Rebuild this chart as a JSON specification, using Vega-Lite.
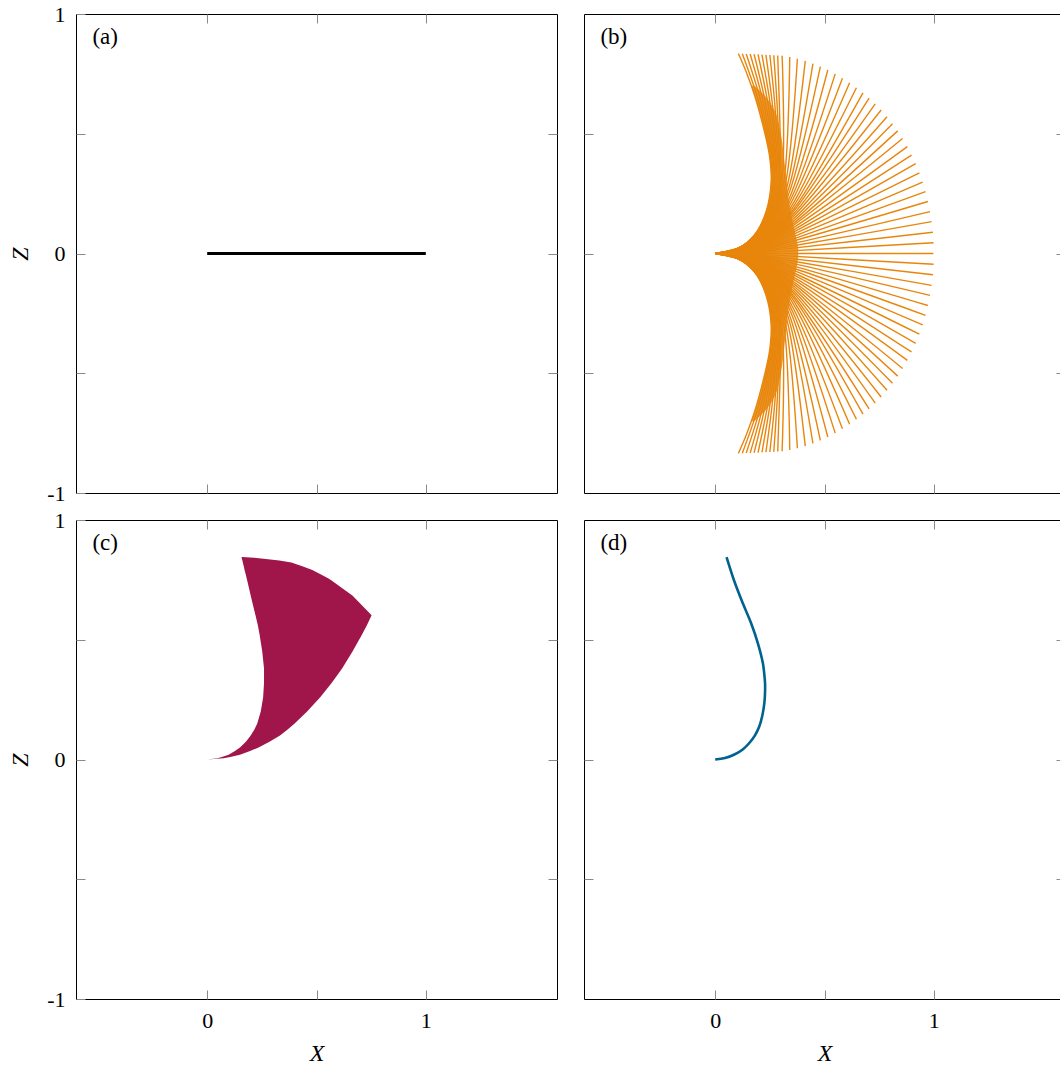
{
"$schema": "https://vega.github.io/schema/vega-lite/v6.json",
"background": "white",
"padding": {"left": 8, "top": 2, "right": 0, "bottom": 0},
"config": {
  "view": {"stroke": "#000", "strokeWidth": 1},
  "axis": {"domain": false, "grid": false, "tickColor": "#8a8a8a", "tickWidth": 1, "tickSize": -9, "labelFont": "Liberation Serif", "labelFontSize": 22, "labelColor": "#000", "labelPadding": 20, "titleFont": "Liberation Serif", "titleFontSize": 24, "titleFontStyle": "italic", "titleFontWeight": "normal", "titleColor": "#000"},
  "axisX": {"titlePadding": 10},
  "axisY": {"titlePadding": 14}
},
"columns": 2,
"spacing": 27,
"bounds": "flush",
"concat": [
{
 "width": 481, "height": 479,
 "layer": [
  {"data": {"values": [{"x": 0, "z": 0}, {"x": 1, "z": 0}]},
   "mark": {"type": "line", "color": "#000", "strokeWidth": 3},
   "encoding": {
    "x": {"field": "x", "type": "quantitative", "scale": {"domain": [-0.6, 1.6], "nice": false, "zero": false}, "axis": {"orient": "bottom", "values": [0, 0.5, 1], "labels": false, "title": null}},
    "y": {"field": "z", "type": "quantitative", "scale": {"domain": [-1, 1], "nice": false, "zero": false}, "axis": {"orient": "left", "values": [-1, -0.5, 0, 0.5, 1], "labelExpr": "datum.value == -1 ? '-1' : datum.value == 0 ? '0' : datum.value == 1 ? '1' : ''", "title": "Z"}}}},
  {"data": {"values": [{"x": 0, "z": 0}]},
   "mark": {"type": "point", "opacity": 0},
   "encoding": {
    "x": {"field": "x", "type": "quantitative", "scale": {"domain": [-0.6, 1.6], "nice": false, "zero": false}, "axis": {"orient": "top", "values": [0, 0.5, 1], "labels": false, "title": null}},
    "y": {"field": "z", "type": "quantitative", "scale": {"domain": [-1, 1], "nice": false, "zero": false}, "axis": {"orient": "right", "values": [-0.5, 0, 0.5], "labels": false, "title": null}}}},
  {"data": {"values": [{"t": "(a)"}]},
   "mark": {"type": "text", "align": "left", "baseline": "middle", "font": "Liberation Serif", "fontSize": 23, "color": "#000"},
   "encoding": {"text": {"field": "t"}, "x": {"datum": -0.525, "type": "quantitative", "axis": null}, "y": {"datum": 0.905, "type": "quantitative", "axis": null}}}
 ],
 "resolve": {"axis": {"x": "independent", "y": "independent"}}
},
{
 "width": 481, "height": 479,
 "layer": [
  {"data": {"values": [
{"z":-0.7,"xl":0.165,"xr":0.18},{"z":-0.65,"xl":0.184,"xr":0.235},{"z":-0.6,"xl":0.2,"xr":0.27},{"z":-0.5,"xl":0.228,"xr":0.3},{"z":-0.4,"xl":0.25,"xr":0.315},{"z":-0.3,"xl":0.257,"xr":0.327},{"z":-0.2,"xl":0.24,"xr":0.34},{"z":-0.15,"xl":0.222,"xr":0.35},{"z":-0.1,"xl":0.195,"xr":0.362},{"z":-0.06,"xl":0.158,"xr":0.372},{"z":-0.03,"xl":0.118,"xr":0.378},{"z":-0.01,"xl":0.07,"xr":0.38},{"z":0,"xl":0,"xr":0.38},
{"z":0.01,"xl":0.07,"xr":0.38},{"z":0.03,"xl":0.118,"xr":0.378},{"z":0.06,"xl":0.158,"xr":0.372},{"z":0.1,"xl":0.195,"xr":0.362},{"z":0.15,"xl":0.222,"xr":0.35},{"z":0.2,"xl":0.24,"xr":0.34},{"z":0.3,"xl":0.257,"xr":0.327},{"z":0.4,"xl":0.25,"xr":0.315},{"z":0.5,"xl":0.228,"xr":0.3},{"z":0.6,"xl":0.2,"xr":0.27},{"z":0.65,"xl":0.184,"xr":0.235},{"z":0.7,"xl":0.165,"xr":0.18}
  ]},
   "mark": {"type": "area", "orient": "horizontal", "color": "#e8860c", "opacity": 0.85, "interpolate": "monotone"},
   "encoding": {
    "y": {"field": "z", "type": "quantitative", "scale": {"domain": [-1, 1], "nice": false, "zero": false}, "axis": null},
    "x": {"field": "xl", "type": "quantitative", "scale": {"domain": [-0.6, 1.6], "nice": false, "zero": false}, "axis": null},
    "x2": {"field": "xr"}}},
  {"data": {"values": [
{"r":"u0","x":0,"z":0},{"r":"u0","x":0.104,"z":0.022},{"r":"u0","x":0.18,"z":0.078},{"r":"u0","x":0.233,"z":0.175},{"r":"u0","x":0.256,"z":0.3},{"r":"u0","x":0.248,"z":0.411},{"r":"u0","x":0.218,"z":0.536},{"r":"u0","x":0.18,"z":0.661},{"r":"u0","x":0.142,"z":0.758},{"r":"u0","x":0.106,"z":0.835},
{"r":"u1","x":0,"z":0},{"r":"u1","x":0.104,"z":0.021},{"r":"u1","x":0.181,"z":0.077},{"r":"u1","x":0.235,"z":0.172},{"r":"u1","x":0.26,"z":0.297},{"r":"u1","x":0.253,"z":0.408},{"r":"u1","x":0.226,"z":0.533},{"r":"u1","x":0.191,"z":0.659},{"r":"u1","x":0.124,"z":0.834},
{"r":"u2","x":0,"z":0},{"r":"u2","x":0.104,"z":0.021},{"r":"u2","x":0.181,"z":0.075},{"r":"u2","x":0.238,"z":0.17},{"r":"u2","x":0.265,"z":0.294},{"r":"u2","x":0.258,"z":0.405},{"r":"u2","x":0.234,"z":0.53},{"r":"u2","x":0.203,"z":0.656},{"r":"u2","x":0.142,"z":0.833},
{"r":"u3","x":0,"z":0},{"r":"u3","x":0.104,"z":0.021},{"r":"u3","x":0.182,"z":0.074},{"r":"u3","x":0.24,"z":0.167},{"r":"u3","x":0.269,"z":0.29},{"r":"u3","x":0.264,"z":0.401},{"r":"u3","x":0.242,"z":0.527},{"r":"u3","x":0.214,"z":0.654},{"r":"u3","x":0.16,"z":0.833},
{"r":"u4","x":0,"z":0},{"r":"u4","x":0.104,"z":0.021},{"r":"u4","x":0.182,"z":0.073},{"r":"u4","x":0.243,"z":0.164},{"r":"u4","x":0.273,"z":0.287},{"r":"u4","x":0.269,"z":0.398},{"r":"u4","x":0.25,"z":0.525},{"r":"u4","x":0.225,"z":0.652},{"r":"u4","x":0.178,"z":0.832},
{"r":"u5","x":0,"z":0},{"r":"u5","x":0.104,"z":0.02},{"r":"u5","x":0.183,"z":0.071},{"r":"u5","x":0.245,"z":0.162},{"r":"u5","x":0.277,"z":0.284},{"r":"u5","x":0.274,"z":0.395},{"r":"u5","x":0.258,"z":0.522},{"r":"u5","x":0.237,"z":0.649},{"r":"u5","x":0.196,"z":0.831},
{"r":"u6","x":0,"z":0},{"r":"u6","x":0.104,"z":0.02},{"r":"u6","x":0.183,"z":0.07},{"r":"u6","x":0.248,"z":0.159},{"r":"u6","x":0.281,"z":0.281},{"r":"u6","x":0.279,"z":0.392},{"r":"u6","x":0.266,"z":0.519},{"r":"u6","x":0.248,"z":0.647},{"r":"u6","x":0.214,"z":0.83},
{"r":"u7","x":0,"z":0},{"r":"u7","x":0.104,"z":0.02},{"r":"u7","x":0.184,"z":0.069},{"r":"u7","x":0.25,"z":0.156},{"r":"u7","x":0.286,"z":0.277},{"r":"u7","x":0.285,"z":0.388},{"r":"u7","x":0.273,"z":0.516},{"r":"u7","x":0.259,"z":0.645},{"r":"u7","x":0.232,"z":0.829},
{"r":"u8","x":0,"z":0},{"r":"u8","x":0.104,"z":0.019},{"r":"u8","x":0.184,"z":0.067},{"r":"u8","x":0.252,"z":0.153},{"r":"u8","x":0.29,"z":0.274},{"r":"u8","x":0.29,"z":0.385},{"r":"u8","x":0.281,"z":0.513},{"r":"u8","x":0.271,"z":0.642},{"r":"u8","x":0.25,"z":0.829},
{"r":"u9","x":0,"z":0},{"r":"u9","x":0.104,"z":0.019},{"r":"u9","x":0.185,"z":0.066},{"r":"u9","x":0.255,"z":0.151},{"r":"u9","x":0.294,"z":0.271},{"r":"u9","x":0.295,"z":0.382},{"r":"u9","x":0.289,"z":0.51},{"r":"u9","x":0.282,"z":0.64},{"r":"u9","x":0.268,"z":0.828},
{"r":"u10","x":0,"z":0},{"r":"u10","x":0.104,"z":0.018},{"r":"u10","x":0.185,"z":0.065},{"r":"u10","x":0.257,"z":0.148},{"r":"u10","x":0.298,"z":0.268},{"r":"u10","x":0.3,"z":0.379},{"r":"u10","x":0.297,"z":0.507},{"r":"u10","x":0.293,"z":0.638},{"r":"u10","x":0.286,"z":0.827},
{"r":"f90","x":0,"z":0},{"r":"f90","x":0.153,"z":0.041},{"r":"f90","x":0.265,"z":0.153},{"r":"f90","x":0.306,"z":0.306},{"r":"f90","x":0.306,"z":0.826},
{"r":"f87","x":0,"z":0},{"r":"f87","x":0.152,"z":0.039},{"r":"f87","x":0.266,"z":0.148},{"r":"f87","x":0.314,"z":0.298},{"r":"f87","x":0.341,"z":0.82},
{"r":"f84","x":0,"z":0},{"r":"f84","x":0.152,"z":0.038},{"r":"f84","x":0.268,"z":0.142},{"r":"f84","x":0.321,"z":0.289},{"r":"f84","x":0.376,"z":0.813},
{"r":"f81","x":0,"z":0},{"r":"f81","x":0.151,"z":0.036},{"r":"f81","x":0.269,"z":0.137},{"r":"f81","x":0.329,"z":0.281},{"r":"f81","x":0.412,"z":0.804},
{"r":"f78","x":0,"z":0},{"r":"f78","x":0.15,"z":0.035},{"r":"f78","x":0.271,"z":0.132},{"r":"f78","x":0.336,"z":0.272},{"r":"f78","x":0.447,"z":0.793},
{"r":"f75","x":0,"z":0},{"r":"f75","x":0.15,"z":0.033},{"r":"f75","x":0.272,"z":0.127},{"r":"f75","x":0.342,"z":0.263},{"r":"f75","x":0.481,"z":0.78},
{"r":"f72","x":0,"z":0},{"r":"f72","x":0.149,"z":0.032},{"r":"f72","x":0.273,"z":0.121},{"r":"f72","x":0.349,"z":0.253},{"r":"f72","x":0.515,"z":0.766},
{"r":"f69","x":0,"z":0},{"r":"f69","x":0.148,"z":0.03},{"r":"f69","x":0.273,"z":0.116},{"r":"f69","x":0.355,"z":0.244},{"r":"f69","x":0.549,"z":0.75},
{"r":"f66","x":0,"z":0},{"r":"f66","x":0.148,"z":0.029},{"r":"f66","x":0.274,"z":0.111},{"r":"f66","x":0.36,"z":0.234},{"r":"f66","x":0.582,"z":0.732},
{"r":"f63","x":0,"z":0},{"r":"f63","x":0.147,"z":0.027},{"r":"f63","x":0.275,"z":0.105},{"r":"f63","x":0.366,"z":0.224},{"r":"f63","x":0.615,"z":0.713},
{"r":"f60","x":0,"z":0},{"r":"f60","x":0.146,"z":0.026},{"r":"f60","x":0.275,"z":0.1},{"r":"f60","x":0.37,"z":0.214},{"r":"f60","x":0.646,"z":0.692},
{"r":"f57","x":0,"z":0},{"r":"f57","x":0.144,"z":0.024},{"r":"f57","x":0.272,"z":0.094},{"r":"f57","x":0.371,"z":0.201},{"r":"f57","x":0.676,"z":0.671},
{"r":"f54","x":0,"z":0},{"r":"f54","x":0.141,"z":0.022},{"r":"f54","x":0.269,"z":0.087},{"r":"f54","x":0.37,"z":0.189},{"r":"f54","x":0.704,"z":0.649},
{"r":"f51","x":0,"z":0},{"r":"f51","x":0.139,"z":0.021},{"r":"f51","x":0.266,"z":0.081},{"r":"f51","x":0.369,"z":0.176},{"r":"f51","x":0.732,"z":0.625},
{"r":"f48","x":0,"z":0},{"r":"f48","x":0.136,"z":0.019},{"r":"f48","x":0.262,"z":0.075},{"r":"f48","x":0.368,"z":0.164},{"r":"f48","x":0.759,"z":0.599},
{"r":"f45","x":0,"z":0},{"r":"f45","x":0.134,"z":0.018},{"r":"f45","x":0.258,"z":0.069},{"r":"f45","x":0.366,"z":0.151},{"r":"f45","x":0.786,"z":0.571},
{"r":"f42","x":0,"z":0},{"r":"f42","x":0.131,"z":0.016},{"r":"f42","x":0.255,"z":0.063},{"r":"f42","x":0.363,"z":0.139},{"r":"f42","x":0.811,"z":0.542},
{"r":"f39","x":0,"z":0},{"r":"f39","x":0.129,"z":0.015},{"r":"f39","x":0.251,"z":0.058},{"r":"f39","x":0.36,"z":0.127},{"r":"f39","x":0.835,"z":0.512},
{"r":"f36","x":0,"z":0},{"r":"f36","x":0.126,"z":0.013},{"r":"f36","x":0.247,"z":0.052},{"r":"f36","x":0.356,"z":0.116},{"r":"f36","x":0.857,"z":0.48},
{"r":"f33","x":0,"z":0},{"r":"f33","x":0.123,"z":0.012},{"r":"f33","x":0.242,"z":0.047},{"r":"f33","x":0.352,"z":0.104},{"r":"f33","x":0.879,"z":0.446},
{"r":"f30","x":0,"z":0},{"r":"f30","x":0.121,"z":0.011},{"r":"f30","x":0.238,"z":0.042},{"r":"f30","x":0.348,"z":0.093},{"r":"f30","x":0.898,"z":0.411},
{"r":"f27","x":0,"z":0},{"r":"f27","x":0.118,"z":0.009},{"r":"f27","x":0.233,"z":0.037},{"r":"f27","x":0.343,"z":0.082},{"r":"f27","x":0.917,"z":0.375},
{"r":"f24","x":0,"z":0},{"r":"f24","x":0.115,"z":0.008},{"r":"f24","x":0.228,"z":0.032},{"r":"f24","x":0.337,"z":0.072},{"r":"f24","x":0.934,"z":0.337},
{"r":"f21","x":0,"z":0},{"r":"f21","x":0.113,"z":0.007},{"r":"f21","x":0.224,"z":0.027},{"r":"f21","x":0.331,"z":0.061},{"r":"f21","x":0.949,"z":0.298},
{"r":"f18","x":0,"z":0},{"r":"f18","x":0.11,"z":0.006},{"r":"f18","x":0.219,"z":0.023},{"r":"f18","x":0.325,"z":0.051},{"r":"f18","x":0.962,"z":0.258},
{"r":"f15","x":0,"z":0},{"r":"f15","x":0.107,"z":0.005},{"r":"f15","x":0.214,"z":0.019},{"r":"f15","x":0.318,"z":0.042},{"r":"f15","x":0.973,"z":0.217},
{"r":"f12","x":0,"z":0},{"r":"f12","x":0.104,"z":0.004},{"r":"f12","x":0.208,"z":0.015},{"r":"f12","x":0.311,"z":0.033},{"r":"f12","x":0.983,"z":0.175},
{"r":"f9","x":0,"z":0},{"r":"f9","x":0.102,"z":0.003},{"r":"f9","x":0.203,"z":0.011},{"r":"f9","x":0.304,"z":0.024},{"r":"f9","x":0.99,"z":0.133},
{"r":"f6","x":0,"z":0},{"r":"f6","x":0.099,"z":0.002},{"r":"f6","x":0.198,"z":0.007},{"r":"f6","x":0.296,"z":0.016},{"r":"f6","x":0.996,"z":0.089},
{"r":"f3","x":0,"z":0},{"r":"f3","x":0.096,"z":0.001},{"r":"f3","x":0.192,"z":0.003},{"r":"f3","x":0.288,"z":0.008},{"r":"f3","x":0.999,"z":0.045},
{"r":"h0","x":0,"z":0},{"r":"h0","x":0.998,"z":0},
{"r":"v0","x":0,"z":0},{"r":"v0","x":0.104,"z":-0.022},{"r":"v0","x":0.18,"z":-0.078},{"r":"v0","x":0.233,"z":-0.175},{"r":"v0","x":0.256,"z":-0.3},{"r":"v0","x":0.248,"z":-0.411},{"r":"v0","x":0.218,"z":-0.536},{"r":"v0","x":0.18,"z":-0.661},{"r":"v0","x":0.142,"z":-0.758},{"r":"v0","x":0.106,"z":-0.835},
{"r":"v1","x":0,"z":0},{"r":"v1","x":0.104,"z":-0.021},{"r":"v1","x":0.181,"z":-0.077},{"r":"v1","x":0.235,"z":-0.172},{"r":"v1","x":0.26,"z":-0.297},{"r":"v1","x":0.253,"z":-0.408},{"r":"v1","x":0.226,"z":-0.533},{"r":"v1","x":0.191,"z":-0.659},{"r":"v1","x":0.124,"z":-0.834},
{"r":"v2","x":0,"z":0},{"r":"v2","x":0.104,"z":-0.021},{"r":"v2","x":0.181,"z":-0.075},{"r":"v2","x":0.238,"z":-0.17},{"r":"v2","x":0.265,"z":-0.294},{"r":"v2","x":0.258,"z":-0.405},{"r":"v2","x":0.234,"z":-0.53},{"r":"v2","x":0.203,"z":-0.656},{"r":"v2","x":0.142,"z":-0.833},
{"r":"v3","x":0,"z":0},{"r":"v3","x":0.104,"z":-0.021},{"r":"v3","x":0.182,"z":-0.074},{"r":"v3","x":0.24,"z":-0.167},{"r":"v3","x":0.269,"z":-0.29},{"r":"v3","x":0.264,"z":-0.401},{"r":"v3","x":0.242,"z":-0.527},{"r":"v3","x":0.214,"z":-0.654},{"r":"v3","x":0.16,"z":-0.833},
{"r":"v4","x":0,"z":0},{"r":"v4","x":0.104,"z":-0.021},{"r":"v4","x":0.182,"z":-0.073},{"r":"v4","x":0.243,"z":-0.164},{"r":"v4","x":0.273,"z":-0.287},{"r":"v4","x":0.269,"z":-0.398},{"r":"v4","x":0.25,"z":-0.525},{"r":"v4","x":0.225,"z":-0.652},{"r":"v4","x":0.178,"z":-0.832},
{"r":"v5","x":0,"z":0},{"r":"v5","x":0.104,"z":-0.02},{"r":"v5","x":0.183,"z":-0.071},{"r":"v5","x":0.245,"z":-0.162},{"r":"v5","x":0.277,"z":-0.284},{"r":"v5","x":0.274,"z":-0.395},{"r":"v5","x":0.258,"z":-0.522},{"r":"v5","x":0.237,"z":-0.649},{"r":"v5","x":0.196,"z":-0.831},
{"r":"v6","x":0,"z":0},{"r":"v6","x":0.104,"z":-0.02},{"r":"v6","x":0.183,"z":-0.07},{"r":"v6","x":0.248,"z":-0.159},{"r":"v6","x":0.281,"z":-0.281},{"r":"v6","x":0.279,"z":-0.392},{"r":"v6","x":0.266,"z":-0.519},{"r":"v6","x":0.248,"z":-0.647},{"r":"v6","x":0.214,"z":-0.83},
{"r":"v7","x":0,"z":0},{"r":"v7","x":0.104,"z":-0.02},{"r":"v7","x":0.184,"z":-0.069},{"r":"v7","x":0.25,"z":-0.156},{"r":"v7","x":0.286,"z":-0.277},{"r":"v7","x":0.285,"z":-0.388},{"r":"v7","x":0.273,"z":-0.516},{"r":"v7","x":0.259,"z":-0.645},{"r":"v7","x":0.232,"z":-0.829},
{"r":"v8","x":0,"z":0},{"r":"v8","x":0.104,"z":-0.019},{"r":"v8","x":0.184,"z":-0.067},{"r":"v8","x":0.252,"z":-0.153},{"r":"v8","x":0.29,"z":-0.274},{"r":"v8","x":0.29,"z":-0.385},{"r":"v8","x":0.281,"z":-0.513},{"r":"v8","x":0.271,"z":-0.642},{"r":"v8","x":0.25,"z":-0.829},
{"r":"v9","x":0,"z":0},{"r":"v9","x":0.104,"z":-0.019},{"r":"v9","x":0.185,"z":-0.066},{"r":"v9","x":0.255,"z":-0.151},{"r":"v9","x":0.294,"z":-0.271},{"r":"v9","x":0.295,"z":-0.382},{"r":"v9","x":0.289,"z":-0.51},{"r":"v9","x":0.282,"z":-0.64},{"r":"v9","x":0.268,"z":-0.828},
{"r":"v10","x":0,"z":0},{"r":"v10","x":0.104,"z":-0.018},{"r":"v10","x":0.185,"z":-0.065},{"r":"v10","x":0.257,"z":-0.148},{"r":"v10","x":0.298,"z":-0.268},{"r":"v10","x":0.3,"z":-0.379},{"r":"v10","x":0.297,"z":-0.507},{"r":"v10","x":0.293,"z":-0.638},{"r":"v10","x":0.286,"z":-0.827},
{"r":"g90","x":0,"z":0},{"r":"g90","x":0.153,"z":-0.041},{"r":"g90","x":0.265,"z":-0.153},{"r":"g90","x":0.306,"z":-0.306},{"r":"g90","x":0.306,"z":-0.826},
{"r":"g87","x":0,"z":0},{"r":"g87","x":0.152,"z":-0.039},{"r":"g87","x":0.266,"z":-0.148},{"r":"g87","x":0.314,"z":-0.298},{"r":"g87","x":0.341,"z":-0.82},
{"r":"g84","x":0,"z":0},{"r":"g84","x":0.152,"z":-0.038},{"r":"g84","x":0.268,"z":-0.142},{"r":"g84","x":0.321,"z":-0.289},{"r":"g84","x":0.376,"z":-0.813},
{"r":"g81","x":0,"z":0},{"r":"g81","x":0.151,"z":-0.036},{"r":"g81","x":0.269,"z":-0.137},{"r":"g81","x":0.329,"z":-0.281},{"r":"g81","x":0.412,"z":-0.804},
{"r":"g78","x":0,"z":0},{"r":"g78","x":0.15,"z":-0.035},{"r":"g78","x":0.271,"z":-0.132},{"r":"g78","x":0.336,"z":-0.272},{"r":"g78","x":0.447,"z":-0.793},
{"r":"g75","x":0,"z":0},{"r":"g75","x":0.15,"z":-0.033},{"r":"g75","x":0.272,"z":-0.127},{"r":"g75","x":0.342,"z":-0.263},{"r":"g75","x":0.481,"z":-0.78},
{"r":"g72","x":0,"z":0},{"r":"g72","x":0.149,"z":-0.032},{"r":"g72","x":0.273,"z":-0.121},{"r":"g72","x":0.349,"z":-0.253},{"r":"g72","x":0.515,"z":-0.766},
{"r":"g69","x":0,"z":0},{"r":"g69","x":0.148,"z":-0.03},{"r":"g69","x":0.273,"z":-0.116},{"r":"g69","x":0.355,"z":-0.244},{"r":"g69","x":0.549,"z":-0.75},
{"r":"g66","x":0,"z":0},{"r":"g66","x":0.148,"z":-0.029},{"r":"g66","x":0.274,"z":-0.111},{"r":"g66","x":0.36,"z":-0.234},{"r":"g66","x":0.582,"z":-0.732},
{"r":"g63","x":0,"z":0},{"r":"g63","x":0.147,"z":-0.027},{"r":"g63","x":0.275,"z":-0.105},{"r":"g63","x":0.366,"z":-0.224},{"r":"g63","x":0.615,"z":-0.713},
{"r":"g60","x":0,"z":0},{"r":"g60","x":0.146,"z":-0.026},{"r":"g60","x":0.275,"z":-0.1},{"r":"g60","x":0.37,"z":-0.214},{"r":"g60","x":0.646,"z":-0.692},
{"r":"g57","x":0,"z":0},{"r":"g57","x":0.144,"z":-0.024},{"r":"g57","x":0.272,"z":-0.094},{"r":"g57","x":0.371,"z":-0.201},{"r":"g57","x":0.676,"z":-0.671},
{"r":"g54","x":0,"z":0},{"r":"g54","x":0.141,"z":-0.022},{"r":"g54","x":0.269,"z":-0.087},{"r":"g54","x":0.37,"z":-0.189},{"r":"g54","x":0.704,"z":-0.649},
{"r":"g51","x":0,"z":0},{"r":"g51","x":0.139,"z":-0.021},{"r":"g51","x":0.266,"z":-0.081},{"r":"g51","x":0.369,"z":-0.176},{"r":"g51","x":0.732,"z":-0.625},
{"r":"g48","x":0,"z":0},{"r":"g48","x":0.136,"z":-0.019},{"r":"g48","x":0.262,"z":-0.075},{"r":"g48","x":0.368,"z":-0.164},{"r":"g48","x":0.759,"z":-0.599},
{"r":"g45","x":0,"z":0},{"r":"g45","x":0.134,"z":-0.018},{"r":"g45","x":0.258,"z":-0.069},{"r":"g45","x":0.366,"z":-0.151},{"r":"g45","x":0.786,"z":-0.571},
{"r":"g42","x":0,"z":0},{"r":"g42","x":0.131,"z":-0.016},{"r":"g42","x":0.255,"z":-0.063},{"r":"g42","x":0.363,"z":-0.139},{"r":"g42","x":0.811,"z":-0.542},
{"r":"g39","x":0,"z":0},{"r":"g39","x":0.129,"z":-0.015},{"r":"g39","x":0.251,"z":-0.058},{"r":"g39","x":0.36,"z":-0.127},{"r":"g39","x":0.835,"z":-0.512},
{"r":"g36","x":0,"z":0},{"r":"g36","x":0.126,"z":-0.013},{"r":"g36","x":0.247,"z":-0.052},{"r":"g36","x":0.356,"z":-0.116},{"r":"g36","x":0.857,"z":-0.48},
{"r":"g33","x":0,"z":0},{"r":"g33","x":0.123,"z":-0.012},{"r":"g33","x":0.242,"z":-0.047},{"r":"g33","x":0.352,"z":-0.104},{"r":"g33","x":0.879,"z":-0.446},
{"r":"g30","x":0,"z":0},{"r":"g30","x":0.121,"z":-0.011},{"r":"g30","x":0.238,"z":-0.042},{"r":"g30","x":0.348,"z":-0.093},{"r":"g30","x":0.898,"z":-0.411},
{"r":"g27","x":0,"z":0},{"r":"g27","x":0.118,"z":-0.009},{"r":"g27","x":0.233,"z":-0.037},{"r":"g27","x":0.343,"z":-0.082},{"r":"g27","x":0.917,"z":-0.375},
{"r":"g24","x":0,"z":0},{"r":"g24","x":0.115,"z":-0.008},{"r":"g24","x":0.228,"z":-0.032},{"r":"g24","x":0.337,"z":-0.072},{"r":"g24","x":0.934,"z":-0.337},
{"r":"g21","x":0,"z":0},{"r":"g21","x":0.113,"z":-0.007},{"r":"g21","x":0.224,"z":-0.027},{"r":"g21","x":0.331,"z":-0.061},{"r":"g21","x":0.949,"z":-0.298},
{"r":"g18","x":0,"z":0},{"r":"g18","x":0.11,"z":-0.006},{"r":"g18","x":0.219,"z":-0.023},{"r":"g18","x":0.325,"z":-0.051},{"r":"g18","x":0.962,"z":-0.258},
{"r":"g15","x":0,"z":0},{"r":"g15","x":0.107,"z":-0.005},{"r":"g15","x":0.214,"z":-0.019},{"r":"g15","x":0.318,"z":-0.042},{"r":"g15","x":0.973,"z":-0.217},
{"r":"g12","x":0,"z":0},{"r":"g12","x":0.104,"z":-0.004},{"r":"g12","x":0.208,"z":-0.015},{"r":"g12","x":0.311,"z":-0.033},{"r":"g12","x":0.983,"z":-0.175},
{"r":"g9","x":0,"z":0},{"r":"g9","x":0.102,"z":-0.003},{"r":"g9","x":0.203,"z":-0.011},{"r":"g9","x":0.304,"z":-0.024},{"r":"g9","x":0.99,"z":-0.133},
{"r":"g6","x":0,"z":0},{"r":"g6","x":0.099,"z":-0.002},{"r":"g6","x":0.198,"z":-0.007},{"r":"g6","x":0.296,"z":-0.016},{"r":"g6","x":0.996,"z":-0.089},
{"r":"g3","x":0,"z":0},{"r":"g3","x":0.096,"z":-0.001},{"r":"g3","x":0.192,"z":-0.003},{"r":"g3","x":0.288,"z":-0.008},{"r":"g3","x":0.999,"z":-0.045}
  ]},
   "mark": {"type": "line", "color": "#e8860c", "strokeWidth": 1.4, "interpolate": "catmull-rom"},
   "encoding": {
    "x": {"field": "x", "type": "quantitative", "scale": {"domain": [-0.6, 1.6], "nice": false, "zero": false}, "axis": {"orient": "bottom", "values": [0, 0.5, 1], "labels": false, "title": null}},
    "y": {"field": "z", "type": "quantitative", "scale": {"domain": [-1, 1], "nice": false, "zero": false}, "axis": {"orient": "left", "values": [-0.5, 0, 0.5], "labels": false, "title": null}},
    "detail": {"field": "r"},
    "order": {"value": null}}},
  {"data": {"values": [{"x": 0, "z": 0}]},
   "mark": {"type": "point", "opacity": 0},
   "encoding": {
    "x": {"field": "x", "type": "quantitative", "scale": {"domain": [-0.6, 1.6], "nice": false, "zero": false}, "axis": {"orient": "top", "values": [0, 0.5, 1], "labels": false, "title": null}},
    "y": {"field": "z", "type": "quantitative", "scale": {"domain": [-1, 1], "nice": false, "zero": false}, "axis": {"orient": "right", "values": [-0.5, 0, 0.5], "labels": false, "title": null}}}},
  {"data": {"values": [{"t": "(b)"}]},
   "mark": {"type": "text", "align": "left", "baseline": "middle", "font": "Liberation Serif", "fontSize": 23, "color": "#000"},
   "encoding": {"text": {"field": "t"}, "x": {"datum": -0.525, "type": "quantitative", "axis": null}, "y": {"datum": 0.905, "type": "quantitative", "axis": null}}}
 ],
 "resolve": {"axis": {"x": "independent", "y": "independent"}}
},
{
 "width": 481, "height": 479,
 "layer": [
  {"data": {"values": [
{"z":0,"xl":0,"xr":0},{"z":0.005,"xl":0.047,"xr":0.075},{"z":0.01,"xl":0.067,"xr":0.105},{"z":0.02,"xl":0.098,"xr":0.15},{"z":0.035,"xl":0.127,"xr":0.196},{"z":0.05,"xl":0.15,"xr":0.235},{"z":0.075,"xl":0.178,"xr":0.287},{"z":0.1,"xl":0.199,"xr":0.333},{"z":0.125,"xl":0.216,"xr":0.368},{"z":0.15,"xl":0.229,"xr":0.4},{"z":0.2,"xl":0.245,"xr":0.457},{"z":0.26,"xl":0.256,"xr":0.517},{"z":0.32,"xl":0.26,"xr":0.57},{"z":0.38,"xl":0.26,"xr":0.617},{"z":0.45,"xl":0.252,"xr":0.664},{"z":0.52,"xl":0.24,"xr":0.707},{"z":0.56,"xl":0.232,"xr":0.73},{"z":0.602,"xl":0.221,"xr":0.752},{"z":0.65,"xl":0.208,"xr":0.701},{"z":0.685,"xl":0.199,"xr":0.664},{"z":0.72,"xl":0.19,"xr":0.61},{"z":0.747,"xl":0.183,"xr":0.569},{"z":0.755,"xl":0.181,"xr":0.557},{"z":0.77,"xl":0.177,"xr":0.525},{"z":0.791,"xl":0.171,"xr":0.481},{"z":0.808,"xl":0.167,"xr":0.432},{"z":0.823,"xl":0.163,"xr":0.385},{"z":0.831,"xl":0.161,"xr":0.33},{"z":0.837,"xl":0.159,"xr":0.268},{"z":0.842,"xl":0.158,"xr":0.215},{"z":0.846,"xl":0.157,"xr":0.16}
  ]},
   "mark": {"type": "area", "orient": "horizontal", "color": "#a0154a", "interpolate": "linear"},
   "encoding": {
    "y": {"field": "z", "type": "quantitative", "scale": {"domain": [-1, 1], "nice": false, "zero": false}, "axis": {"orient": "left", "values": [-1, -0.5, 0, 0.5, 1], "labelExpr": "datum.value == -1 ? '-1' : datum.value == 0 ? '0' : datum.value == 1 ? '1' : ''", "title": "Z"}},
    "x": {"field": "xl", "type": "quantitative", "scale": {"domain": [-0.6, 1.6], "nice": false, "zero": false}, "axis": {"orient": "bottom", "values": [0, 0.5, 1], "labelExpr": "datum.value == 0 ? '0' : datum.value == 1 ? '1' : ''", "title": "X"}},
    "x2": {"field": "xr"}}},
  {"data": {"values": [{"x": 0, "z": 0}]},
   "mark": {"type": "point", "opacity": 0},
   "encoding": {
    "x": {"field": "x", "type": "quantitative", "scale": {"domain": [-0.6, 1.6], "nice": false, "zero": false}, "axis": {"orient": "top", "values": [0, 0.5, 1], "labels": false, "title": null}},
    "y": {"field": "z", "type": "quantitative", "scale": {"domain": [-1, 1], "nice": false, "zero": false}, "axis": {"orient": "right", "values": [-0.5, 0, 0.5], "labels": false, "title": null}}}},
  {"data": {"values": [{"t": "(c)"}]},
   "mark": {"type": "text", "align": "left", "baseline": "middle", "font": "Liberation Serif", "fontSize": 23, "color": "#000"},
   "encoding": {"text": {"field": "t"}, "x": {"datum": -0.525, "type": "quantitative", "axis": null}, "y": {"datum": 0.905, "type": "quantitative", "axis": null}}}
 ],
 "resolve": {"axis": {"x": "independent", "y": "independent"}}
},
{
 "width": 481, "height": 479,
 "layer": [
  {"data": {"values": [
{"x":0,"z":0},{"x":0.045,"z":0.006},{"x":0.088,"z":0.021},{"x":0.126,"z":0.042},{"x":0.157,"z":0.07},{"x":0.182,"z":0.101},{"x":0.202,"z":0.139},{"x":0.216,"z":0.185},{"x":0.225,"z":0.236},{"x":0.228,"z":0.28},{"x":0.228,"z":0.32},{"x":0.224,"z":0.362},{"x":0.218,"z":0.403},{"x":0.195,"z":0.486},{"x":0.164,"z":0.57},{"x":0.126,"z":0.653},{"x":0.088,"z":0.743},{"x":0.052,"z":0.845}
  ]},
   "mark": {"type": "line", "color": "#00628f", "strokeWidth": 2.6, "interpolate": "catmull-rom"},
   "encoding": {
    "x": {"field": "x", "type": "quantitative", "scale": {"domain": [-0.6, 1.6], "nice": false, "zero": false}, "axis": {"orient": "bottom", "values": [0, 0.5, 1], "labelExpr": "datum.value == 0 ? '0' : datum.value == 1 ? '1' : ''", "title": "X"}},
    "y": {"field": "z", "type": "quantitative", "scale": {"domain": [-1, 1], "nice": false, "zero": false}, "axis": {"orient": "left", "values": [-0.5, 0, 0.5], "labels": false, "title": null}},
    "order": {"value": null}}},
  {"data": {"values": [{"x": 0, "z": 0}]},
   "mark": {"type": "point", "opacity": 0},
   "encoding": {
    "x": {"field": "x", "type": "quantitative", "scale": {"domain": [-0.6, 1.6], "nice": false, "zero": false}, "axis": {"orient": "top", "values": [0, 0.5, 1], "labels": false, "title": null}},
    "y": {"field": "z", "type": "quantitative", "scale": {"domain": [-1, 1], "nice": false, "zero": false}, "axis": {"orient": "right", "values": [-0.5, 0, 0.5], "labels": false, "title": null}}}},
  {"data": {"values": [{"t": "(d)"}]},
   "mark": {"type": "text", "align": "left", "baseline": "middle", "font": "Liberation Serif", "fontSize": 23, "color": "#000"},
   "encoding": {"text": {"field": "t"}, "x": {"datum": -0.525, "type": "quantitative", "axis": null}, "y": {"datum": 0.905, "type": "quantitative", "axis": null}}}
 ],
 "resolve": {"axis": {"x": "independent", "y": "independent"}}
}
]
}
